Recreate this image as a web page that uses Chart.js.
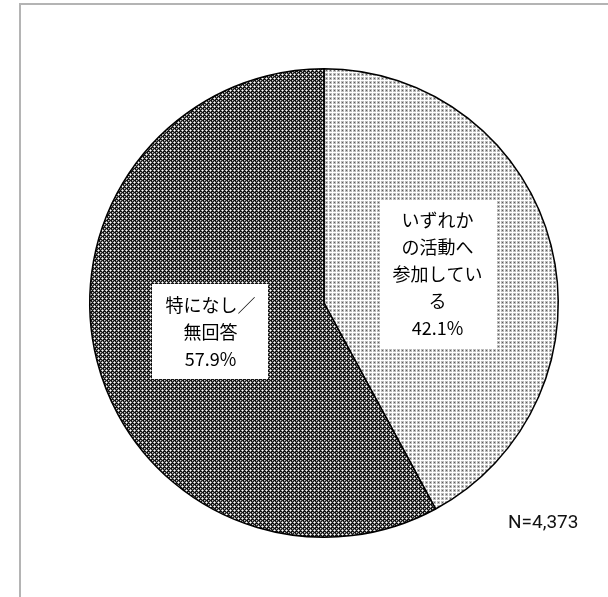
<!DOCTYPE html>
<html>
<head>
<meta charset="utf-8">
<script src="https://cdn.jsdelivr.net/npm/chart.js@4.4.0/dist/chart.umd.min.js"></script>
<style>
  html, body { margin: 0; padding: 0; background: #fff; }
  #wrap { position: relative; width: 608px; height: 597px; }
  #frame { position: absolute; left: 19px; top: 3px; right: -5px; bottom: -5px;
           border-left: 2px solid #b4b4b4; border-top: 2px solid #b4b4b4; }
  #n { position: absolute; left: 508px; top: 510px; font: 19px Roboto, "Liberation Sans", sans-serif; color: #111; line-height: 24px; }
</style>
</head>
<body>
<div id="wrap">
  <div id="frame"></div>
  <canvas id="pie" width="608" height="597"></canvas>
  <div id="n">N=4,373</div>
</div>
<script>
const categories = ['いずれかの活動へ参加している', '特になし／無回答'];
const labelLines = [['いずれか', 'の活動へ', '参加してい', 'る'], ['特になし／', '無回答']];
const percents = [42.1, 57.9];

// 網掛けパターン
function makePattern(kind) {
  const c = document.createElement('canvas');
  c.width = 4; c.height = 4;
  const g = c.getContext('2d');
  if (kind === 'light') {
    g.fillStyle = '#fff'; g.fillRect(0, 0, 4, 4);
    g.fillStyle = '#bcbcbc';
    g.fillRect(1, 1, 3, 3);
    g.fillStyle = '#5c5c5c'; g.fillRect(2, 2, 1, 1);
  } else {
    g.fillStyle = '#151515'; g.fillRect(0, 0, 4, 4);
    g.fillStyle = '#aaa';
    g.fillRect(1, 2, 3, 1); g.fillRect(2, 1, 1, 3);
    g.fillStyle = '#fff'; g.fillRect(2, 2, 1, 1);
    g.fillStyle = '#ccc'; g.fillRect(0, 0, 1, 1);
    g.fillStyle = '#555'; g.fillRect(1, 0, 1, 1); g.fillRect(0, 1, 1, 1);
  }
  return g.createPattern(c, 'repeat');
}

const boxLabels = {
  id: 'boxLabels',
  afterDatasetsDraw(chart) {
    const ctx = chart.ctx;
    const meta = chart.getDatasetMeta(0);
    const lh = 27;
    meta.data.forEach((arc, i) => {
      const p = arc.getCenterPoint();
      const lines = labelLines[i].concat([percents[i].toFixed(1) + '%']);
      ctx.save();
      ctx.font = '18px "Noto Sans CJK JP", sans-serif';
      let w = 0;
      lines.forEach(t => { w = Math.max(w, ctx.measureText(t).width); });
      const bw = w + 26, bh = lines.length * lh + 14;
      ctx.fillStyle = '#fff';
      ctx.fillRect(Math.round(p.x - bw / 2), Math.round(p.y - bh / 2), Math.round(bw), Math.round(bh));
      ctx.fillStyle = '#000';
      ctx.textAlign = 'center';
      ctx.textBaseline = 'middle';
      lines.forEach((t, k) => {
        ctx.fillText(t, p.x, p.y - (lines.length - 1) * lh / 2 + k * lh);
      });
      ctx.restore();
    });
  }
};

new Chart(document.getElementById('pie'), {
  type: 'pie',
  data: {
    labels: categories,
    datasets: [{
      data: percents,
      backgroundColor: [makePattern('light'), makePattern('dark')],
      borderColor: '#000',
      borderWidth: 1.5
    }]
  },
  options: {
    responsive: false,
    animation: false,
    layout: { padding: { left: 89, right: 49, top: 68, bottom: 59 } },
    plugins: { legend: { display: false }, tooltip: { enabled: false } }
  },
  plugins: [boxLabels]
});
</script>
</body>
</html>
